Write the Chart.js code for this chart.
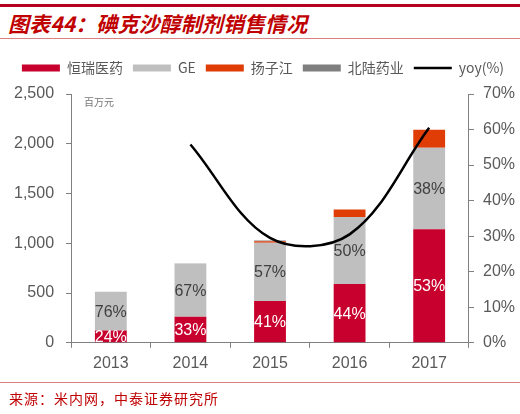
<!DOCTYPE html>
<html>
<head>
<meta charset="utf-8">
<script src="https://cdn.jsdelivr.net/npm/chart.js@4"></script>
<style>
  body{margin:0;width:520px;height:414px;background:#fff;position:relative;overflow:hidden;font-family:"Liberation Sans",Arial,sans-serif;}
  #topline{position:absolute;left:0;top:4px;width:520px;height:3px;background:#b5001e;}
  #title{position:absolute;left:8px;top:8px;font-family:"Noto Sans CJK SC",sans-serif;font-size:21px;letter-spacing:0.1px;font-weight:bold;font-style:italic;color:#c00000;white-space:nowrap;}
  #titleline{position:absolute;left:0;top:38px;width:520px;height:1px;background:#d98080;}
  #unit{position:absolute;left:84px;top:94px;font-family:"Noto Sans CJK SC",sans-serif;font-size:10px;color:#777;}
  #srcline{position:absolute;left:0;top:382px;width:520px;height:1px;background:#d98080;}
  #source{position:absolute;left:9px;top:388px;font-family:"Noto Sans CJK SC",sans-serif;font-size:14px;letter-spacing:1px;color:#c00000;white-space:nowrap;}
  #wrap{position:absolute;left:0;top:0;width:520px;height:414px;}
</style>
</head>
<body>
<div id="topline"></div>
<div id="title">图表44：碘克沙醇制剂销售情况</div>
<div id="titleline"></div>
<div id="wrap"><canvas id="chart" width="520" height="414"></canvas></div>
<div id="unit">百万元</div>
<div id="srcline"></div>
<div id="source">来源：米内网，中泰证券研究所</div>
<script>
// 数据 (百万元)
const years = ["2013", "2014", "2015", "2016", "2017"];
const hengrui = [123, 262, 420, 590, 1140];
const ge = [391, 533, 585, 675, 820];
const yangzijiang = [0, 0, 15, 75, 180];
const beilu = [0, 3, 8, 0, 0];
const yoy = [null, 55.8, 29.5, 30.5, 60.5];

const leftTicks = [0, 500, 1000, 1500, 2000, 2500];
const rightTicks = [0, 10, 20, 30, 40, 50, 60, 70];

// 占比标签
const shareLabels = {
  id: "shareLabels",
  afterDatasetsDraw(chart) {
    const ctx = chart.ctx;
    const a = chart.chartArea;
    ctx.save();
    ctx.beginPath();
    ctx.rect(a.left, a.top, a.right - a.left, a.bottom - a.top);
    ctx.clip();
    ctx.font = "16px 'Liberation Sans', Arial";
    ctx.textAlign = "center";
    ctx.textBaseline = "middle";
    [0, 1].forEach(function (di) {
      const meta = chart.getDatasetMeta(di);
      meta.data.forEach(function (bar, i) {
        const total = hengrui[i] + ge[i] + yangzijiang[i] + beilu[i];
        const v = chart.data.datasets[di].data[i];
        const pct = Math.round(v / total * 100) + "%";
        ctx.fillStyle = di === 0 ? "#ffffff" : "#404040";
        ctx.fillText(pct, bar.x, (bar.y + bar.base) / 2 + 1);
      });
    });
    ctx.restore();
  }
};

// 图例下方留白
const legendGap = {
  id: "legendGap",
  beforeLayout(chart) {
    const lg = chart.legend;
    if (lg && !lg._gapPatched) {
      const fit = lg.fit;
      lg.fit = function () { fit.call(this); this.height += 9; };
      lg._gapPatched = true;
    }
  }
};

const ctx = document.getElementById("chart").getContext("2d");

new Chart(ctx, {
  type: "bar",
  data: {
    labels: years,
    datasets: [
      { label: "恒瑞医药", data: hengrui, backgroundColor: "#c8002d", stack: "s", yAxisID: "y", order: 2 },
      { label: "GE", data: ge, backgroundColor: "#bfbfbf", stack: "s", yAxisID: "y", order: 2 },
      { label: "扬子江", data: yangzijiang, backgroundColor: "#e03c06", stack: "s", yAxisID: "y", order: 2 },
      { label: "北陆药业", data: beilu, backgroundColor: "#7f7f7f", stack: "s", yAxisID: "y", order: 2 },
      {
        type: "line", label: "yoy(%)", data: yoy, yAxisID: "y1", order: 1,
        borderColor: "#000000", backgroundColor: "#000000", borderWidth: 2.5,
        pointRadius: 0, tension: 0.35, fill: false
      }
    ]
  },
  options: {
    responsive: false,
    animation: false,
    layout: { padding: { left: 2, right: -4, top: 51, bottom: 35 } },
    datasets: { bar: { barPercentage: 0.5, categoryPercentage: 0.8 } },
    plugins: {
      tooltip: { enabled: false },
      legend: {
        position: "top",
        labels: {
          usePointStyle: true,
          pointStyleWidth: 38,
          boxHeight: 7,
          padding: 10,
          color: "#595959",
          font: { size: 14, family: "'Noto Sans CJK SC', 'Liberation Sans', sans-serif" },
          sort: (a, b) => a.datasetIndex - b.datasetIndex,
          generateLabels(chart) {
            const items = Chart.defaults.plugins.legend.labels.generateLabels(chart);
            items.forEach(function (it) {
              if (it.datasetIndex === 4) {
                it.pointStyle = "line";
                it.lineWidth = 2.5;
                it.strokeStyle = "#000000";
              } else {
                it.pointStyle = "rect";
                it.lineWidth = 0;
              }
            });
            return items;
          }
        }
      }
    },
    scales: {
      x: {
        stacked: true,
        grid: { drawOnChartArea: false, drawTicks: true, tickLength: 5, color: "#808080", offset: true },
        border: { color: "#808080" },
        ticks: { color: "#595959", font: { size: 16 }, padding: 6 }
      },
      y: {
        stacked: true,
        position: "left",
        min: 0, max: 2500,
        afterBuildTicks(axis) { axis.ticks = leftTicks.map(v => ({ value: v })); },
        grid: { drawOnChartArea: false, drawTicks: true, tickLength: 5, color: "#808080" },
        border: { color: "#808080" },
        ticks: {
          color: "#595959", font: { size: 16 }, padding: 12,
          callback: v => v.toLocaleString("en-US")
        }
      },
      y1: {
        position: "right",
        min: 0, max: 70,
        afterBuildTicks(axis) { axis.ticks = rightTicks.map(v => ({ value: v })); },
        grid: { drawOnChartArea: false, drawTicks: true, tickLength: 5, color: "#808080" },
        border: { color: "#808080" },
        ticks: { color: "#595959", font: { size: 16 }, padding: 9, callback: v => v + "%" }
      }
    }
  },
  plugins: [shareLabels, legendGap]
});
</script>
</body>
</html>
